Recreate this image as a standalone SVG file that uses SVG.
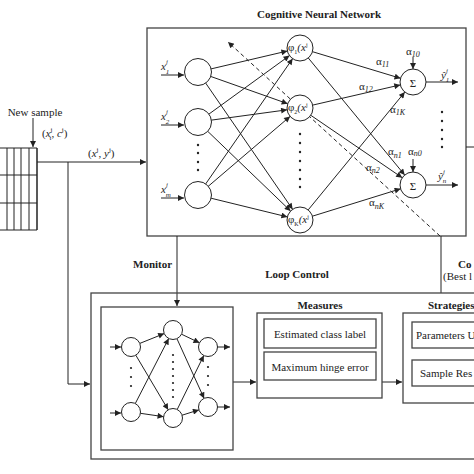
<svg xmlns="http://www.w3.org/2000/svg" width="474" height="474" viewBox="0 0 474 474">
<defs>
<marker id="ah" viewBox="0 0 10 10" refX="10" refY="5" markerWidth="7" markerHeight="6" markerUnits="userSpaceOnUse" orient="auto">
<path d="M0,0 L10,5 L0,10 z" fill="#222"/>
</marker>
<style>
.t{font-family:"Liberation Serif",serif;fill:#222;font-size:11px}
.b{font-weight:bold}
.i{font-style:italic}
.ln{stroke:#222;stroke-width:1;fill:none}
.bx{stroke:#444;stroke-width:1.3;fill:none}
.nd{stroke:#222;stroke-width:1;fill:#fff}
.ar{stroke:#222;stroke-width:1;fill:none;marker-end:url(#ah)}
.dt{fill:#222}
</style>
</defs>
<rect width="474" height="474" fill="#fff"/>

<text class="t b" x="319" y="18" font-size="13" text-anchor="middle">Cognitive Neural Network</text>

<g id="cnn-box"><rect class="bx" x="147" y="28" width="319" height="208"/></g>

<g id="buffer">
<path class="ln" d="M0,148 H37 M0,175 H37 M0,203 H37 M0,230 H37 M7,148 V230 M14,148 V230 M21,148 V230 M29,148 V230"/>
<path d="M37,148 V230" stroke="#222" stroke-width="1.5"/>
<text class="t" x="35" y="116" text-anchor="middle">New sample</text>
<text class="t" x="42" y="137">(<tspan class="i">x</tspan><tspan font-size="7" dy="-5">j</tspan><tspan font-size="7" dx="-3" dy="8">t</tspan><tspan dy="-3">, </tspan><tspan class="i">c</tspan><tspan font-size="7" dy="-5">j</tspan><tspan dy="5">)</tspan></text>
</g>

<g id="connectors">
<path class="ar" d="M33,118 V147"/>
<path class="ar" d="M37,162 H146"/>
<path class="ln" d="M68,162 V384"/>
<path class="ar" d="M68,384 H90"/>
<path class="ar" d="M177,236 V306"/>
<path class="ln" d="M441,236 V293"/>
<path class="ln" d="M466,147 H474"/>
<path class="ar" d="M233,382 H256"/>
<path class="ar" d="M382,382 H402"/>
<path d="M440,236 L228,42" stroke="#222" stroke-width="1" stroke-dasharray="4,3" fill="none" marker-end="url(#ah)"/>
<path class="ar" d="M161,75 H184"/>
<path class="ar" d="M161,125 H184"/>
<path class="ar" d="M161,198 H184"/>
<path class="ar" d="M210.6,69 L287.4,51"/>
<path class="ar" d="M210.3,76.3 L287.7,103.7"/>
<path class="ar" d="M205.4,82.7 L292.6,209.3"/>
<path class="ar" d="M208.5,114.4 L289.5,55.6"/>
<path class="ar" d="M210.9,120.2 L287.1,109.8"/>
<path class="ar" d="M207.4,131 L290.6,211"/>
<path class="ar" d="M205.4,184.3 L292.6,58.7"/>
<path class="ar" d="M207.9,186.6 L290.1,116.4"/>
<path class="ar" d="M210.6,198.1 L287.4,216.9"/>
<path class="ar" d="M312.5,51.7 L400.5,78.3"/>
<path class="ar" d="M308.3,58 L404.7,175"/>
<path class="ar" d="M312.7,105.1 L400.3,84.9"/>
<path class="ar" d="M310.8,115.3 L402.2,177.7"/>
<path class="ar" d="M308.2,209.9 L404.8,92.1"/>
<path class="ar" d="M312.4,216.2 L400.6,188.8"/>
<path class="ar" d="M413,57 V69"/>
<path class="ar" d="M413,159 V172"/>
<path class="ar" d="M426,82 H458"/>
<path class="ar" d="M426,185 H458"/>
<path class="ar" d="M110,347 H121"/>
<path class="ar" d="M110,413 H121"/>
<path class="ar" d="M139.8,343.4 L164.2,333.6"/>
<path class="ar" d="M135.8,355.2 L168.2,409.8"/>
<path class="ar" d="M135.3,403.5 L168.7,338.5"/>
<path class="ar" d="M140.4,413.3 L163.6,416.7"/>
<path class="ar" d="M181.5,334.2 L199.5,342.8"/>
<path class="ar" d="M176.9,338.6 L204.1,398.4"/>
<path class="ar" d="M177.2,409.5 L203.8,355.5"/>
<path class="ar" d="M182.1,415.2 L198.9,409.9"/>
<path class="ar" d="M217,347 H230"/>
<path class="ar" d="M217,407 H230"/>
</g>

<text class="t" x="88" y="157">(<tspan class="i">x</tspan><tspan font-size="7" dy="-5">j</tspan><tspan dy="5">, </tspan><tspan class="i">y</tspan><tspan font-size="7" dy="-5">j</tspan><tspan dy="5">)</tspan></text>

<g id="input-1"><circle class="nd" cx="198" cy="72" r="13.5"/><text class="t i" x="161" y="70">x<tspan font-size="7" dy="-6">j</tspan><tspan font-size="7" dx="-2" dy="10">1</tspan></text></g>
<g id="input-2"><circle class="nd" cx="198" cy="122" r="13.5"/><text class="t i" x="161" y="120">x<tspan font-size="7" dy="-6">j</tspan><tspan font-size="7" dx="-2" dy="10">2</tspan></text></g>
<g id="input-m"><circle class="nd" cx="198" cy="195" r="13.5"/><text class="t i" x="161" y="193">x<tspan font-size="7" dy="-6">j</tspan><tspan font-size="7" dx="-2" dy="10">m</tspan></text></g>
<g id="input-dots"><circle class="dt" cx="198" cy="145" r="1.2"/><circle class="dt" cx="198" cy="153" r="1.2"/><circle class="dt" cx="198" cy="162" r="1.2"/><circle class="dt" cx="198" cy="170" r="1.2"/></g>

<g id="hidden-1"><circle class="nd" cx="300" cy="48" r="13"/><text class="t" x="288" y="51" font-size="10.5">φ<tspan font-size="6" dy="3">1</tspan><tspan class="i" dy="-3">(x</tspan><tspan font-size="6" dy="-4">j</tspan></text></g>
<g id="hidden-2"><circle class="nd" cx="300" cy="108" r="13"/><text class="t" x="288" y="111" font-size="10.5">φ<tspan font-size="6" dy="3">2</tspan><tspan class="i" dy="-3">(x</tspan><tspan font-size="6" dy="-4">j</tspan></text></g>
<g id="hidden-K"><circle class="nd" cx="300" cy="220" r="13"/><text class="t" x="288" y="223" font-size="10.5">φ<tspan font-size="6" dy="3">K</tspan><tspan class="i" dy="-3">(x</tspan><tspan font-size="6" dy="-4">j</tspan></text></g>
<g id="hidden-dots"><circle class="dt" cx="300" cy="134" r="1.2"/><circle class="dt" cx="300" cy="143" r="1.2"/><circle class="dt" cx="300" cy="152" r="1.2"/><circle class="dt" cx="300" cy="161" r="1.2"/><circle class="dt" cx="300" cy="170" r="1.2"/><circle class="dt" cx="300" cy="179" r="1.2"/><circle class="dt" cx="300" cy="187" r="1.2"/></g>

<g id="sum-1"><circle class="nd" cx="413" cy="82" r="13"/><text class="t" x="413" y="87" font-size="14" text-anchor="middle">Σ</text></g>
<g id="sum-n"><circle class="nd" cx="413" cy="185" r="13"/><text class="t" x="413" y="190" font-size="14" text-anchor="middle">Σ</text></g>
<g id="output-dots"><circle class="dt" cx="442" cy="112" r="1.2"/><circle class="dt" cx="442" cy="121" r="1.2"/><circle class="dt" cx="442" cy="130" r="1.2"/><circle class="dt" cx="442" cy="139" r="1.2"/><circle class="dt" cx="442" cy="147" r="1.2"/></g>

<g id="out-labels">
<text class="t i" x="441" y="79">ŷ<tspan font-size="7" dy="-6">j</tspan><tspan font-size="7" dx="-2" dy="9">1</tspan></text>
<text class="t i" x="438" y="180">ŷ<tspan font-size="7" dy="-6">j</tspan><tspan font-size="7" dx="-2" dy="9">n</tspan></text>
</g>

<g id="alpha-labels">
<text class="t" x="406" y="55">α<tspan class="i" font-size="8" dy="2">10</tspan></text>
<text class="t" x="376" y="65">α<tspan class="i" font-size="8" dy="2">11</tspan></text>
<text class="t" x="359" y="90">α<tspan class="i" font-size="8" dy="2">12</tspan></text>
<text class="t" x="390" y="113">α<tspan class="i" font-size="8" dy="2">1K</tspan></text>
<text class="t" x="388" y="155">α<tspan class="i" font-size="8" dy="3">n1</tspan></text>
<text class="t" x="408" y="155">α<tspan class="i" font-size="8" dy="1">n0</tspan></text>
<text class="t" x="366" y="171">α<tspan class="i" font-size="8" dy="2">n2</tspan></text>
<text class="t" x="369" y="206">α<tspan class="i" font-size="8" dy="3">nK</tspan></text>
</g>

<text class="t b" x="133" y="268">Monitor</text>
<text class="t b" x="297" y="278" font-size="13" text-anchor="middle">Loop Control</text>
<text class="t b" x="458" y="268" font-size="12">Co</text>
<text class="t" x="443" y="280" font-size="12">(Best l</text>

<g id="loop-box"><rect class="bx" x="91" y="293" width="400" height="166"/></g>

<g id="monitor-nn">
<rect class="bx" x="101" y="307" width="132" height="143"/>
<circle class="nd" cx="131" cy="347" r="9.5"/>
<circle class="nd" cx="131" cy="412" r="9.5"/>
<circle class="nd" cx="173" cy="330" r="9.5"/>
<circle class="nd" cx="173" cy="418" r="9.5"/>
<circle class="nd" cx="208" cy="347" r="9.5"/>
<circle class="nd" cx="208" cy="407" r="9.5"/>
<circle class="dt" cx="131" cy="368" r="1.1"/><circle class="dt" cx="131" cy="377" r="1.1"/><circle class="dt" cx="131" cy="386" r="1.1"/>
<circle class="dt" cx="173" cy="355" r="1.1"/><circle class="dt" cx="173" cy="362" r="1.1"/><circle class="dt" cx="173" cy="369" r="1.1"/><circle class="dt" cx="173" cy="376" r="1.1"/><circle class="dt" cx="173" cy="383" r="1.1"/><circle class="dt" cx="173" cy="390" r="1.1"/><circle class="dt" cx="173" cy="397" r="1.1"/>
<circle class="dt" cx="208" cy="367" r="1.1"/><circle class="dt" cx="208" cy="376" r="1.1"/><circle class="dt" cx="208" cy="385" r="1.1"/>
</g>

<g id="measures">
<text class="t b" x="320" y="309" text-anchor="middle">Measures</text>
<rect class="bx" x="257" y="313" width="125" height="85"/>
<rect class="bx" x="264" y="319" width="112" height="29"/>
<text class="t" x="320" y="338" text-anchor="middle">Estimated class label</text>
<rect class="bx" x="264" y="352" width="112" height="28"/>
<text class="t" x="320" y="371" text-anchor="middle">Maximum hinge error</text>
</g>

<g id="strategies">
<text class="t b" x="428" y="309">Strategies</text>
<rect class="bx" x="403" y="313" width="90" height="90"/>
<rect class="bx" x="412" y="322" width="80" height="26"/>
<text class="t" x="416" y="339" font-size="10.5">Parameters U</text>
<rect class="bx" x="412" y="360" width="80" height="26"/>
<text class="t" x="420" y="377">Sample Res</text>
</g>
</svg>
